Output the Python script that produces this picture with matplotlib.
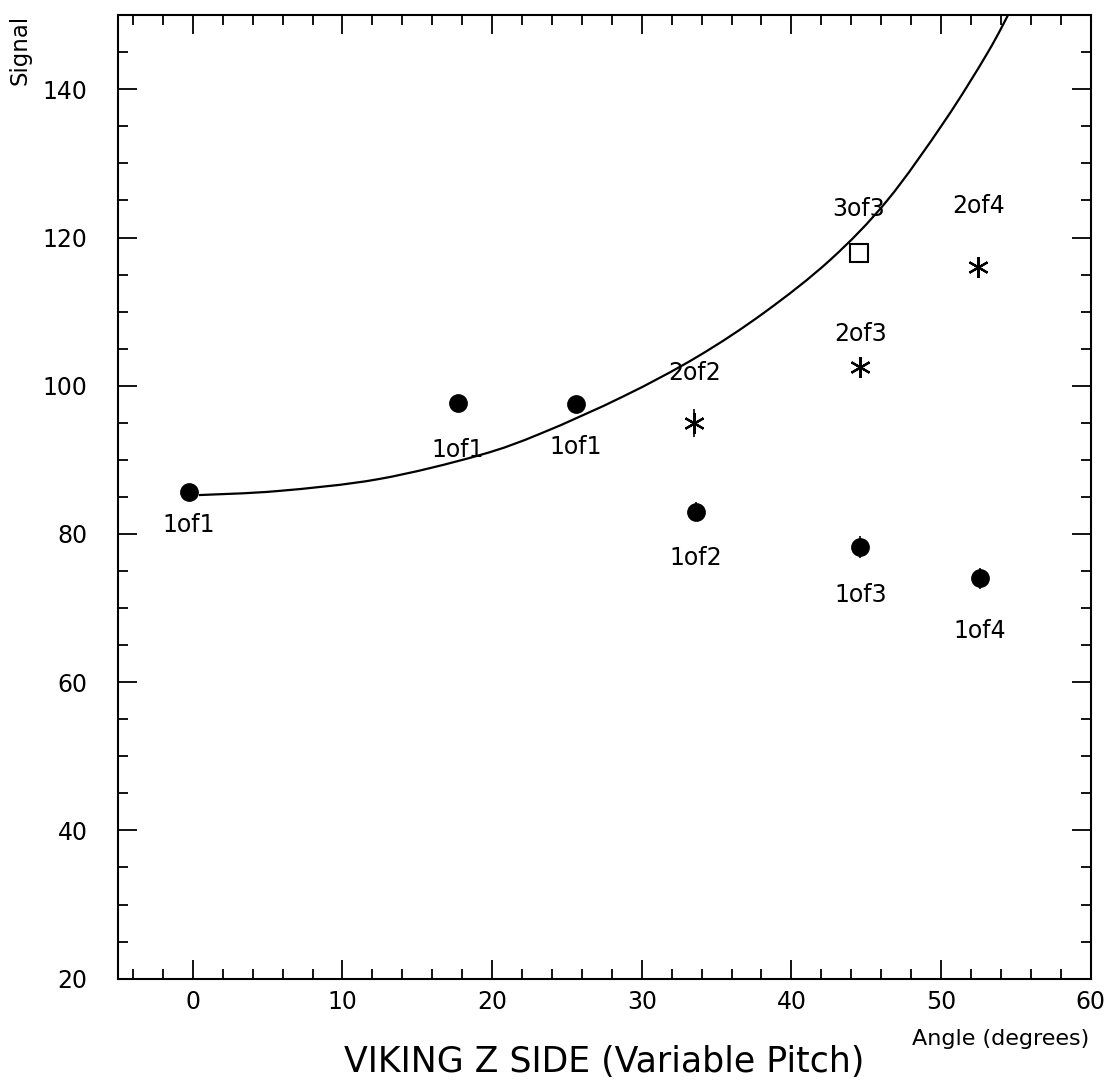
import matplotlib
matplotlib.use('Agg')
import matplotlib.pyplot as plt
from matplotlib.ticker import MultipleLocator
from matplotlib.path import Path
import matplotlib.patches as patches

# points
circle_x = [-0.27, 17.7, 25.6, 33.6, 44.6, 52.6]
circle_y = [85.65, 97.7, 97.6, 83.0, 78.2, 74.0]
circle_err = [0.4, 0.4, 0.4, 1.3, 1.5, 1.4]
circle_labels = ['1of1', '1of1', '1of1', '1of2', '1of3', '1of4']

star_x = [33.5, 44.6, 52.5]
star_y = [95.0, 102.5, 116.0]
star_err = [1.9, 0.5, 0.5]
star_labels = ['2of2', '2of3', '2of4']

square_x = [44.5]
square_y = [117.9]
square_labels = ['3of3']

# fitted curve
curve_x = [0.4, 5.7, 12.4, 19.1, 23.3, 28.8, 33.7, 38.2, 42.6, 46.4, 50.2, 53.1, 54.7]
curve_y = [85.25, 85.8, 87.4, 90.6, 93.6, 98.6, 103.9, 109.9, 117.0, 125.0, 135.6, 144.9, 150.9]

# label offsets in points (below = negative)
circle_off = [-24, -34, -31, -33, -34, -38]
star_off = [36, 24, 44]
square_off = [32]

fig = plt.figure(figsize=(11.13, 10.85), dpi=100)
ax = fig.add_axes([0.106, 0.098, 0.874, 0.888])

# smooth line through the read points (catmull-rom drawn as bezier segments)
pts = list(zip(curve_x, curve_y))
verts = [pts[0]]
codes = [Path.MOVETO]
for i in range(len(pts) - 1):
    p0 = pts[max(i - 1, 0)]
    p1 = pts[i]
    p2 = pts[i + 1]
    p3 = pts[min(i + 2, len(pts) - 1)]
    c1 = (p1[0] + (p2[0] - p0[0]) / 6, p1[1] + (p2[1] - p0[1]) / 6)
    c2 = (p2[0] - (p3[0] - p1[0]) / 6, p2[1] - (p3[1] - p1[1]) / 6)
    verts += [c1, c2, p2]
    codes += [Path.CURVE4] * 3
ax.add_patch(patches.PathPatch(Path(verts, codes), fill=False, lw=1.6, edgecolor='black'))

ax.errorbar(circle_x, circle_y, yerr=circle_err, fmt='o', color='black',
            ms=12.5, elinewidth=1.2, capsize=0)
ax.errorbar(star_x, star_y, yerr=star_err, fmt='none', ecolor='black', elinewidth=1.2)
ax.plot(star_x, star_y, ls='none', marker=(6, 2, 0), ms=15, mec='black', mew=1.6)
ax.plot(square_x, square_y, ls='none', marker='s', ms=12.5, mfc='white', mec='black', mew=1.5)

for xs, ys, labs, offs in [(circle_x, circle_y, circle_labels, circle_off),
                           (star_x, star_y, star_labels, star_off),
                           (square_x, square_y, square_labels, square_off)]:
    for x, y, t, o in zip(xs, ys, labs, offs):
        ax.annotate(t, (x, y), xytext=(0, o), textcoords='offset points',
                    ha='center', va='center', fontsize=17)

ax.set_xlim(-5, 60)
ax.set_ylim(20, 150)
ax.xaxis.set_major_locator(MultipleLocator(10))
ax.xaxis.set_minor_locator(MultipleLocator(2))
ax.yaxis.set_major_locator(MultipleLocator(20))
ax.yaxis.set_minor_locator(MultipleLocator(5))
ax.tick_params(which='both', direction='in', top=True, right=True, width=1.3, labelsize=17)
ax.tick_params(which='major', length=13.5)
ax.tick_params(which='minor', length=7)
ax.tick_params(axis='y', pad=22)
ax.tick_params(axis='x', pad=8)
for s in ax.spines.values():
    s.set_linewidth(1.5)

fig.text(0.018, 0.986, 'Signal', rotation=90, ha='center', va='top', fontsize=16.5)
fig.text(0.979, 0.042, 'Angle (degrees)', ha='right', va='center', fontsize=16)
fig.text(0.543, 0.021, 'VIKING Z SIDE (Variable Pitch)', ha='center', va='center', fontsize=25)

fig.savefig('out.png', dpi=100)
